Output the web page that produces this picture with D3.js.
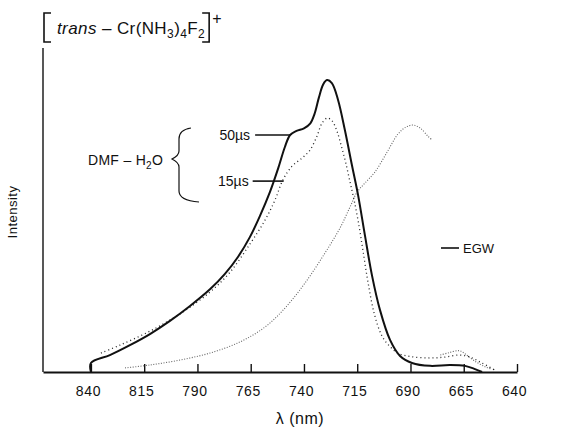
<!DOCTYPE html>
<html>
<head>
<meta charset="utf-8">
<script src="https://cdn.jsdelivr.net/npm/d3@7"></script>
<style>
  html, body { margin: 0; padding: 0; background: #fff; }
  svg { display: block; font-family: "Liberation Sans", "DejaVu Sans", sans-serif; }
</style>
</head>
<body>
<svg id="chart" width="573" height="431"></svg>
<script>
// wavelength ticks (nm), axis runs from long to short wavelength
const wavelengthTicks = [840, 815, 790, 765, 740, 715, 690, 665, 640];

// [wavelength nm, relative intensity]
const dmf50us = [
    [840, 0], [840, 3.1], [831.1, 5.8], [821.7, 9.2], [812.3, 13], [802.9, 17.5],
    [793.5, 22.6], [784, 28.4], [777.1, 33.6], [771, 39.4], [765.4, 46.2], [760.7, 53.4],
    [756, 61.6], [752, 70], [749, 77], [746.5, 81.2], [743.5, 82.6], [740, 83.5],
    [737, 85.2], [735, 88.5], [733, 94], [731, 98.5], [729.2, 100], [726.9, 99],
    [724, 93.2], [720.8, 82.9], [717.5, 70.9], [714.6, 60.6], [711.4, 46.9], [708.1, 33.2],
    [704.3, 21.2], [699.6, 11], [694.9, 5.5], [689.3, 3.1], [680.8, 2.1], [671.5, 2.4],
    [664.4, 2.1], [659.7, 1], [656.4, 0]
];

const dmf15us = [
    [835.3, 6.5], [826.4, 9.2], [812.3, 14], [798.2, 19.9], [784.1, 27.4], [774.7, 34.2],
    [765.4, 43.8], [758.3, 52], [753.6, 58.9], [749.9, 65.8], [745.6, 70.5], [740.9, 73.3],
    [737.2, 76], [733.9, 80.8], [731.5, 85.3], [729, 87], [726.8, 86], [724.5, 82.5],
    [722.5, 77.5], [720.5, 72], [718.5, 65.5], [716.5, 59], [714.5, 51.5], [712.5, 42.5],
    [710, 31], [707, 20], [703.5, 12.5], [700, 9], [696, 6.5], [690, 5.3], [681, 4.8],
    [674, 5.1], [667, 5.8], [662, 5.1], [656.5, 3.1], [650.5, 0.7]
];

const egwMain = [
    [824, 1.4], [812.3, 2.4], [798.2, 4.1], [784.1, 6.5], [770, 10.3], [758.3, 15.4],
    [748.9, 21.9], [739.5, 30.5], [730.1, 40.8], [723.1, 49.3], [718.4, 56.5], [715.1, 61.6],
    [711.4, 64.7], [706.7, 68.5], [701, 75.3], [695.9, 81.5], [692.1, 83.9], [688.8, 84.6],
    [685.5, 83.6], [681.8, 80.8], [679.9, 79.5]
];

const egwTail = [
    [676, 5.8], [672, 6.6], [667, 7.3], [664, 6], [660, 3.8], [655, 1.8], [652, 1]
];

var svg = d3.select('#chart');

var x = d3.scaleLinear().domain([862.5, 640]).range([43, 517]);
var y = d3.scaleLinear().domain([0, 111]).range([372, 48]);

var line = d3.line()
    .x(function (d) { return x(d[0]); })
    .y(function (d) { return y(d[1]); })
    .curve(d3.curveCatmullRom.alpha(0.5));

// ---- axes ----
svg.append('line')
    .attr('x1', x(862.5)).attr('x2', x(862.5))
    .attr('y1', y(111)).attr('y2', y(0))
    .attr('stroke', '#111').attr('stroke-width', 1.4);

var xAxis = d3.axisBottom(x)
    .tickValues(wavelengthTicks)
    .tickSizeInner(-8)
    .tickSizeOuter(0)
    .tickPadding(14)
    .tickFormat(d3.format('d'));

var gx = svg.append('g')
    .attr('transform', 'translate(0,' + y(0) + ')')
    .call(xAxis);

gx.select('.domain').attr('stroke', '#111').attr('stroke-width', 2);
gx.selectAll('.tick line').attr('stroke', '#111').attr('stroke-width', 1.4);
gx.selectAll('.tick text')
    .attr('fill', '#111')
    .attr('dx', -3)
    .style('font-size', '14px')
    .style('letter-spacing', '0.6px');

svg.append('text')
    .attr('x', 300).attr('y', 424)
    .attr('text-anchor', 'middle')
    .style('font-size', '16px')
    .style('letter-spacing', '0.5px')
    .attr('fill', '#111')
    .text('λ (nm)');

svg.append('text')
    .attr('transform', 'translate(17,212) rotate(-90)')
    .attr('text-anchor', 'middle')
    .style('font-size', '13px')
    .style('letter-spacing', '0.5px')
    .attr('fill', '#111')
    .text('Intensity');

// ---- curves ----
[egwMain, egwTail].forEach(function (seg) {
    svg.append('path')
        .datum(seg)
        .attr('d', line)
        .attr('fill', 'none')
        .attr('stroke', '#666')
        .attr('stroke-width', 1.1)
        .attr('stroke-dasharray', '1,1.6');
});

svg.append('path')
    .datum(dmf15us)
    .attr('d', line)
    .attr('fill', 'none')
    .attr('stroke', '#222')
    .attr('stroke-width', 1.3)
    .attr('stroke-dasharray', '1,3');

svg.append('path')
    .datum(dmf50us)
    .attr('d', line)
    .attr('fill', 'none')
    .attr('stroke', '#111')
    .attr('stroke-width', 2);

// ---- title ----
var title = svg.append('text')
    .attr('x', 57).attr('y', 34)
    .style('font-size', '17px')
    .style('letter-spacing', '0.4px')
    .attr('fill', '#111');
title.append('tspan').style('font-style', 'italic').text('trans');
title.append('tspan').text(' – Cr(NH');
title.append('tspan').attr('dy', 4).style('font-size', '12px').text('3');
title.append('tspan').attr('dy', -4).text(')');
title.append('tspan').attr('dy', 4).style('font-size', '12px').text('4');
title.append('tspan').attr('dy', -4).text('F');
title.append('tspan').attr('dy', 4).style('font-size', '12px').text('2');

var tb = title.node().getBBox();
var bx = tb.x + tb.width + 4;
svg.append('path')
    .attr('d', 'M51,13 H44 V42 H51')
    .attr('fill', 'none').attr('stroke', '#111').attr('stroke-width', 1.6);
svg.append('path')
    .attr('d', 'M' + (bx - 7) + ',13 H' + bx + ' V42 H' + (bx - 7))
    .attr('fill', 'none').attr('stroke', '#111').attr('stroke-width', 1.6);
svg.append('text')
    .attr('x', bx + 3).attr('y', 24)
    .style('font-size', '16px')
    .attr('fill', '#111')
    .text('+');

// ---- annotations ----
var dmf = svg.append('text')
    .attr('x', 88).attr('y', 165)
    .style('font-size', '14px')
    .style('letter-spacing', '0.3px')
    .attr('fill', '#111');
dmf.append('tspan').text('DMF – H');
dmf.append('tspan').attr('dy', 4).style('font-size', '10px').text('2');
dmf.append('tspan').attr('dy', -4).text('O');

svg.append('path')
    .attr('d', 'M191,128 C184,129 179,132 179,139 V151 C179,155 176,157 172,159 C176,161 179,163 179,167 V191 C179,198 186,201 199,202')
    .attr('fill', 'none').attr('stroke', '#111').attr('stroke-width', 1.2);

var p50 = [746.5, 81.2];
svg.append('line')
    .attr('x1', x(p50[0]) - 35).attr('x2', x(p50[0]))
    .attr('y1', y(p50[1])).attr('y2', y(p50[1]))
    .attr('stroke', '#111').attr('stroke-width', 1.6);
svg.append('text')
    .attr('x', x(p50[0]) - 40).attr('y', y(p50[1]) + 5)
    .attr('text-anchor', 'end')
    .style('font-size', '14px')
    .attr('fill', '#111')
    .text('50µs');

var p15 = [750, 65.4];
svg.append('line')
    .attr('x1', x(p15[0]) - 30).attr('x2', x(p15[0]) + 1)
    .attr('y1', y(p15[1])).attr('y2', y(p15[1]))
    .attr('stroke', '#111').attr('stroke-width', 1.6);
svg.append('text')
    .attr('x', x(p15[0]) - 34).attr('y', y(p15[1]) + 5)
    .attr('text-anchor', 'end')
    .style('font-size', '14px')
    .attr('fill', '#111')
    .text('15µs');

svg.append('line')
    .attr('x1', 441).attr('x2', 459)
    .attr('y1', 248).attr('y2', 248)
    .attr('stroke', '#111').attr('stroke-width', 1.6);
svg.append('text')
    .attr('x', 463).attr('y', 253)
    .style('font-size', '13px')
    .attr('fill', '#111')
    .text('EGW');
</script>
</body>
</html>
